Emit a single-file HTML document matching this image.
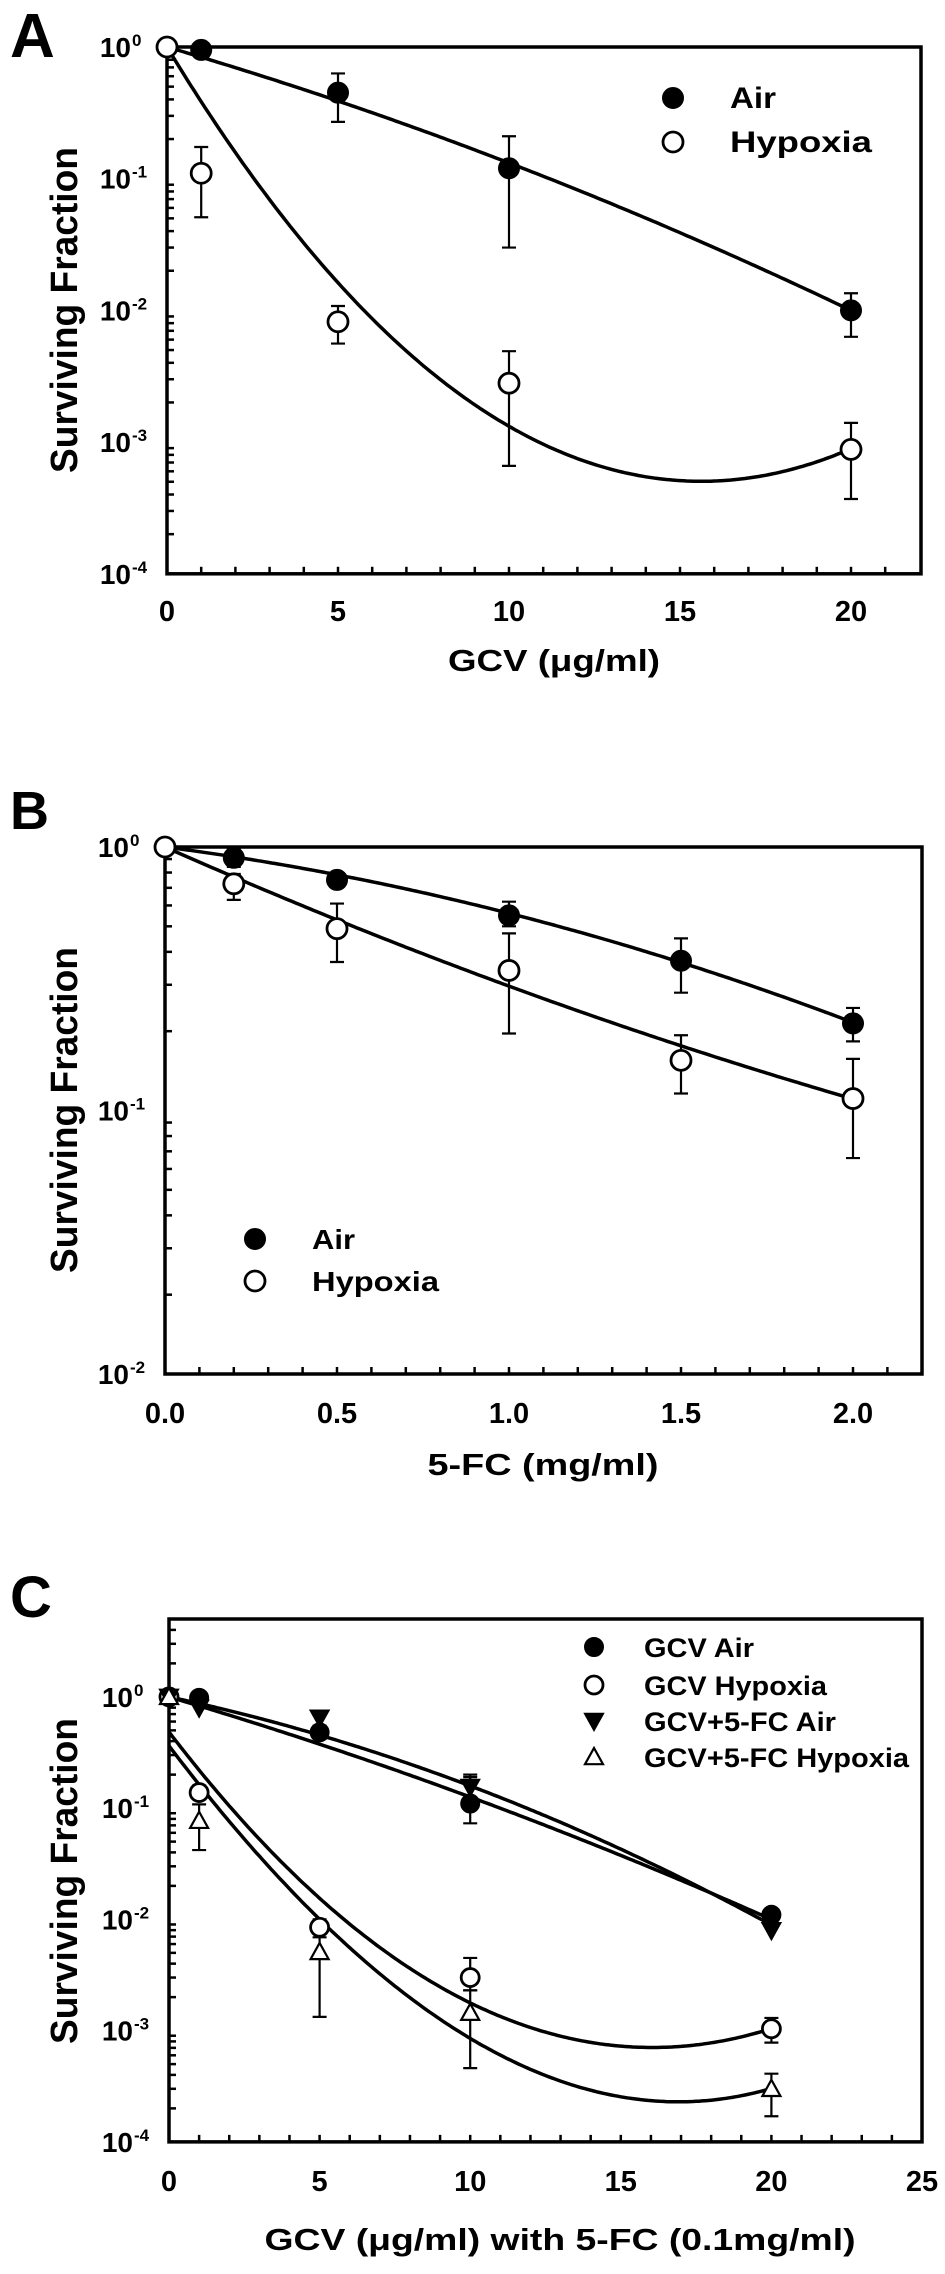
<!DOCTYPE html>
<html><head><meta charset="utf-8"><style>
html,body{margin:0;padding:0;background:#fff;}
svg{display:block;font-family:"Liberation Sans",Arial,sans-serif;font-weight:bold;}
</style></head><body>
<svg id="fig" width="945" height="2274" viewBox="0 0 945 2274" xmlns="http://www.w3.org/2000/svg"></svg>
<script>
// ---------- Panel A data ----------
const aX = [0, 1, 5, 10, 20];
const aAir = [1.0, 0.95, 0.45, 0.12, 0.010];
const aAirHi = [null, null, 0.63, 0.21, 0.0135];
const aAirLo = [null, null, 0.27, 0.030, 0.0063];
const aHyp = [1.0, 0.11, 0.0082, 0.0028, 0.00088];
const aHypHi = [null, 0.174, 0.0108, 0.0049, 0.0014];
const aHypLo = [null, 0.051, 0.0056, 0.00066, 0.00037];
const aAirFit = [0, -0.076, -0.0012, 0];
const aHypFit = [0, -0.4295, 0.01445, -0.00003];
const aXTicks = ["0", "5", "10", "15", "20"];
const aYTicks = ["0", "-1", "-2", "-3", "-4"];
// ---------- Panel B data ----------
const bX = [0, 0.2, 0.5, 1.0, 1.5, 2.0];
const bAir = [1.0, 0.91, 0.75, 0.55, 0.37, 0.214];
const bAirHi = [null, 0.98, 0.78, 0.62, 0.45, 0.245];
const bAirLo = [null, 0.84, 0.72, 0.50, 0.28, 0.183];
const bHyp = [1.0, 0.725, 0.49, 0.34, 0.155, 0.111];
const bHypHi = [null, 0.79, 0.61, 0.47, 0.193, 0.157];
const bHypLo = [null, 0.63, 0.366, 0.196, 0.116, 0.066];
const bAirFit = [0, -0.17, -0.0815, 0];
const bHypFit = [0, -0.578, 0.05, 0];
const bXTicks = ["0.0", "0.5", "1.0", "1.5", "2.0"];
const bYTicks = ["0", "-1", "-2"];
// ---------- Panel C data ----------
const cX = [0, 1, 5, 10, 20];
const cGcvAir = [1.0, 0.98, 0.48, 0.11, 0.011];
const cGcvAirHi = [null, null, 0.55, 0.19, 0.012];
const cGcvAirLo = [null, null, 0.42, 0.073, 0.010];
const cGcvHyp = [1.0, 0.138, 0.0085, 0.003, 0.00104];
const cGcvHypHi = [null, 0.16, 0.010, 0.0045, 0.0013];
const cGcvHypLo = [null, 0.12, 0.0075, 0.0023, 0.00078];
const cFcAir = [1.0, 0.80, 0.65, 0.155, 0.008];
const cFcAirHi = [null, null, null, 0.20, null];
const cFcAirLo = [null, null, null, 0.12, null];
const cFcHyp = [1.0, 0.077, 0.0051, 0.00145, 0.0003];
const cFcHypHi = [null, 0.108, 0.0069, 0.0023, 0.00041];
const cFcHypLo = [null, 0.042, 0.00133, 0.00046, 0.00017];
const cGcvAirFit = [0, -0.08, -0.001, 0];
const cFcAirFit = [0, -0.0575, -0.00225, 0];
const cGcvHypFit = [-0.315, -0.3548, 0.011175, -0.000005];
const cFcHypFit = [-0.44, -0.3573, 0.0087, 0.0000733];
const cXTicks = ["0", "5", "10", "15", "20", "25"];
const cYTicks = ["0", "-1", "-2", "-3", "-4"];

const NS = "http://www.w3.org/2000/svg";
const svg = document.getElementById("fig");
function mk(tag, attrs, parent) {
  const e = document.createElementNS(NS, tag);
  for (const k in attrs) e.setAttribute(k, attrs[k]);
  (parent || svg).appendChild(e);
  return e;
}

function panel(cfg) {
  const g = mk("g", {});
  
  
  const xs = v => cfg.x0 + (v - cfg.xmin) * cfg.xu;
  const ys = v => cfg.yTop + (cfg.logTop - Math.log10(v)) * cfg.dec;
  const yBot = cfg.yTop + (cfg.logTop - cfg.logBot) * cfg.dec;
  const lbl = mk("text", {x: 10, y: cfg.labelY, "font-size": cfg.labelSize}, g);
  
  
  lbl.textContent = cfg.label;
  const tg = mk("g", {stroke: "#000", "stroke-width": 2.5}, g);
  
  
  for (let v = cfg.xmin + cfg.tickStep; v < cfg.xmax - 1e-9; v += cfg.tickStep) {
    const px = xs(v);
    mk("line", {x1: px, x2: px, y1: yBot, y2: yBot - 7}, tg);
  }
  for (let d = Math.floor(cfg.logBot); d < Math.ceil(cfg.logTop); d++) {
    for (let m = 2; m <= 9; m++) {
      const lv = d + Math.log10(m);
      if (lv >= cfg.logTop) continue;
      const py = ys(Math.pow(10, lv));
      mk("line", {x1: cfg.x0, x2: cfg.x0 + 7, y1: py, y2: py}, tg);
    }
  }
  const box = mk("rect", {x: cfg.x0, y: cfg.yTop, width: cfg.xR - cfg.x0, height: yBot - cfg.yTop, fill: "none", stroke: "#000", "stroke-width": 3.5}, g);
  
  
  cfg.xTicks.forEach(t => {
    const e = mk("text", {x: xs(parseFloat(t)), y: cfg.xTickY, "font-size": 29, "text-anchor": "middle"}, g);
    
    
    e.textContent = t;
  });
  cfg.yTicks.forEach(t => {
    const py = ys(Math.pow(10, parseFloat(t)));
    const e = mk("text", {x: cfg.x0 - 36, y: py + 10, "font-size": 28, "text-anchor": "end"}, g);
    
    
    e.textContent = "10";
    const s = mk("text", {x: cfg.x0 - 35, y: py - 1, "font-size": 17}, g);
    
    
    s.textContent = t;
  });
  const yt = mk("text", {x: 0, y: 0, "font-size": 38, "text-anchor": "middle", textLength: 326, lengthAdjust: "spacingAndGlyphs", transform: `translate(${77},${cfg.yTitleY}) rotate(-90)`}, g);
  
  
  yt.textContent = "Surviving Fraction";
  const xt = mk("text", {x: cfg.xTitleX, y: cfg.xTitleY, "font-size": 31, "text-anchor": "middle", textLength: cfg.xTitleW, lengthAdjust: "spacingAndGlyphs"}, g);
  
  
  xt.textContent = cfg.xTitle;
  cfg.fits.forEach(f => {
    let d = "";
    for (let i = 0; i <= 200; i++) {
      const v = cfg.xmin + (cfg.fitMax - cfg.xmin) * i / 200;
      const lv = f[0] + f[1] * v + f[2] * v * v + f[3] * v * v * v;
      d += (i ? "L" : "M") + xs(v).toFixed(1) + "," + ys(Math.pow(10, lv)).toFixed(1);
    }
    const p = mk("path", {d: d, fill: "none", stroke: "#000", "stroke-width": 3.5}, g);
    
    
  });
  cfg.series.forEach(s => {
    const sg = mk("g", {}, g);
    
    
    s.x.forEach((xv, i) => {
      const px = xs(xv), py = ys(s.y[i]);
      if (s.hi[i] != null) {
        const h = ys(s.hi[i]), l = ys(s.lo[i]);
        const eb = mk("path", {d: `M${px},${h}L${px},${l}M${px-7},${h}L${px+7},${h}M${px-7},${l}L${px+7},${l}`, stroke: "#000", "stroke-width": 2.2, fill: "none"}, sg);
        
        
      }
      const m = marker(s.shape, px, py, cfg.r, sg);
      
      
    });
  });
  cfg.legend.forEach(L => {
    const m = marker(L.shape, L.mx, L.y, cfg.r, g);
    
    
    const t = mk("text", {x: L.tx, y: L.y + 10, "font-size": L.fs, textLength: L.w, lengthAdjust: "spacingAndGlyphs"}, g);
    
    
    t.textContent = L.text;
  });
}
function marker(shape, x, y, r, parent) {
  if (shape === "fc") return mk("circle", {cx: x, cy: y, r: r, fill: "#000", stroke: "#000", "stroke-width": 2}, parent);
  if (shape === "oc") return mk("circle", {cx: x, cy: y, r: r, fill: "#fff", stroke: "#000", "stroke-width": 2.8}, parent);
  if (shape === "td") return mk("path", {d: `M${x-r},${y-r*0.8}L${x+r},${y-r*0.8}L${x},${y+r}Z`, fill: "#000", stroke: "#000", "stroke-width": 2}, parent);
  return mk("path", {d: `M${x-r},${y+r*0.8}L${x+r},${y+r*0.8}L${x},${y-r}Z`, fill: "#fff", stroke: "#000", "stroke-width": 2.2}, parent);
}

panel({name: "panel-a", label: "A", labelY: 57, labelSize: 62,
  x0: 167, xR: 921, xmin: 0, xmax: 22, xu: 34.2, tickStep: 1, fitMax: 20,
  yTop: 47, dec: 131.7, logTop: 0, logBot: -4,
  xTicks: aXTicks, yTicks: aYTicks, xTickY: 621, yTitleY: 310,
  xTitle: "GCV (\u03bcg/ml)", xTitleX: 554, xTitleY: 671, xTitleW: 212, r: 10,
  fits: [aAirFit, aHypFit],
  series: [
    {key: "air", shape: "fc", x: aX, y: aAir, hi: aAirHi, lo: aAirLo},
    {key: "hypoxia", shape: "oc", x: aX, y: aHyp, hi: aHypHi, lo: aHypLo}],
  legend: [
    {shape: "fc", mx: 673, tx: 730, y: 98, text: "Air", fs: 30, w: 46},
    {shape: "oc", mx: 673, tx: 730, y: 142, text: "Hypoxia", fs: 30, w: 142}]
});
panel({name: "panel-b", label: "B", labelY: 829, labelSize: 54,
  x0: 165, xR: 922, xmin: 0, xmax: 2.2, xu: 344, tickStep: 0.1, fitMax: 2.0,
  yTop: 847, dec: 263.5, logTop: 0, logBot: -2,
  xTicks: bXTicks, yTicks: bYTicks, xTickY: 1423, yTitleY: 1110,
  xTitle: "5-FC (mg/ml)", xTitleX: 543, xTitleY: 1475, xTitleW: 231, r: 10,
  fits: [bAirFit, bHypFit],
  series: [
    {key: "air", shape: "fc", x: bX, y: bAir, hi: bAirHi, lo: bAirLo},
    {key: "hypoxia", shape: "oc", x: bX, y: bHyp, hi: bHypHi, lo: bHypLo}],
  legend: [
    {shape: "fc", mx: 255, tx: 312, y: 1239, text: "Air", fs: 28, w: 43},
    {shape: "oc", mx: 255, tx: 312, y: 1281, text: "Hypoxia", fs: 28, w: 127}]
});
panel({name: "panel-c", label: "C", labelY: 1617, labelSize: 58,
  x0: 169, xR: 922, xmin: 0, xmax: 25, xu: 30.12, tickStep: 1, fitMax: 20,
  yTop: 1619, dec: 111.25, logTop: 0.7, logBot: -4,
  xTicks: cXTicks, yTicks: cYTicks, xTickY: 2191, yTitleY: 1881,
  xTitle: "GCV (\u03bcg/ml) with 5-FC (0.1mg/ml)", xTitleX: 560, xTitleY: 2250, xTitleW: 591, r: 9,
  fits: [cGcvAirFit, cFcAirFit, cGcvHypFit, cFcHypFit],
  series: [
    {key: "gcv-air", shape: "fc", x: cX, y: cGcvAir, hi: cGcvAirHi, lo: cGcvAirLo},
    {key: "gcv-hypoxia", shape: "oc", x: cX, y: cGcvHyp, hi: cGcvHypHi, lo: cGcvHypLo},
    {key: "gcv-5fc-air", shape: "td", x: cX, y: cFcAir, hi: cFcAirHi, lo: cFcAirLo},
    {key: "gcv-5fc-hypoxia", shape: "tu", x: cX, y: cFcHyp, hi: cFcHypHi, lo: cFcHypLo}],
  legend: [
    {shape: "fc", mx: 594, tx: 644, y: 1647, text: "GCV Air", fs: 27, w: 110},
    {shape: "oc", mx: 594, tx: 644, y: 1685, text: "GCV Hypoxia", fs: 27, w: 183},
    {shape: "td", mx: 594, tx: 644, y: 1721, text: "GCV+5-FC Air", fs: 27, w: 192},
    {shape: "tu", mx: 594, tx: 644, y: 1757, text: "GCV+5-FC Hypoxia", fs: 27, w: 265}]
});
</script>
</body></html>
